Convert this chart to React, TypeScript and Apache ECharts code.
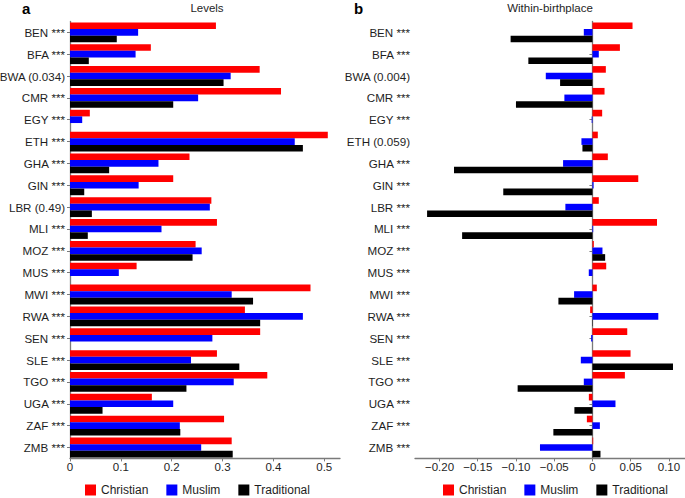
import React, { useEffect, useRef } from "react";
import * as echarts from "echarts";

const levelsLabels = [
  "BEN ***", "BFA ***", "BWA (0.034)", "CMR ***", "EGY ***", "ETH ***", "GHA ***", "GIN ***", "LBR (0.49)", "MLI ***",
  "MOZ ***", "MUS ***", "MWI ***", "RWA ***", "SEN ***", "SLE ***", "TGO ***", "UGA ***", "ZAF ***", "ZMB ***",
];
const withinLabels = [
  "BEN ***", "BFA ***", "BWA (0.004)", "CMR ***", "EGY ***", "ETH (0.059)", "GHA ***", "GIN ***", "LBR ***", "MLI ***",
  "MOZ ***", "MUS ***", "MWI ***", "RWA ***", "SEN ***", "SLE ***", "TGO ***", "UGA ***", "ZAF ***", "ZMB ***",
];

const levelsChristian = [0.287, 0.159, 0.373, 0.415, 0.039, 0.507, 0.235, 0.203, 0.278, 0.289, 0.247, 0.131, 0.473, 0.344, 0.374, 0.289, 0.388, 0.161, 0.303, 0.318];
const levelsMuslim = [0.134, 0.129, 0.316, 0.252, 0.024, 0.442, 0.174, 0.135, 0.275, 0.180, 0.259, 0.096, 0.318, 0.458, 0.280, 0.238, 0.322, 0.203, 0.216, 0.258];
const levelsTraditional = [0.092, 0.037, 0.302, 0.203, null, 0.458, 0.077, 0.028, 0.043, 0.035, 0.241, null, 0.360, 0.374, null, 0.333, 0.229, 0.064, 0.217, 0.320];

const withinChristian = [0.0524, 0.0359, 0.0175, 0.0158, 0.0127, 0.007, 0.0201, 0.0599, 0.0083, 0.0844, 0.0018, 0.018, 0.0057, -0.003, 0.0455, 0.0498, 0.0424, -0.0047, -0.0073, 0.001];
const withinMuslim = [-0.0113, 0.0083, -0.061, -0.0367, -0.001, -0.0144, -0.0384, 0.0015, -0.0354, 0.001, 0.0131, -0.0048, -0.024, 0.0861, -0.0017, -0.0152, -0.0113, 0.0301, 0.0097, -0.0686];
const withinTraditional = [-0.107, -0.0838, -0.0423, -0.1, null, -0.0131, -0.181, -0.1166, -0.2162, -0.1704, 0.0166, null, -0.0445, 0.0005, null, 0.1053, -0.0978, -0.0236, -0.0511, 0.0105];

const levelsTicks = [0, 0.1, 0.2, 0.3, 0.4, 0.5];
const withinTicks = [-0.2, -0.15, -0.1, -0.05, 0, 0.05, 0.1];

const seriesNames = ["Christian", "Muslim", "Traditional"];
const colors = ["#ff0000", "#0000ff", "#000000"];

const FONT = "'Liberation Sans', Arial, Helvetica, sans-serif";
const AXIS_COLOR = "#7a7a7a";
const TEXT_COLOR = "#1e1e1e";

export default function App() {
  const ref = useRef<HTMLDivElement>(null);
  useEffect(() => {
    if (!ref.current) return;
    const chart = echarts.init(ref.current, undefined, { renderer: "svg" });

    const catAxis = (labels: string[], gridIndex: number) => ({
      type: "category",
      gridIndex,
      data: labels,
      inverse: true,
      axisLine: { show: true, lineStyle: { color: AXIS_COLOR, width: 1.3 } },
      axisTick: { show: true, alignWithLabel: true, length: 3, lineStyle: { color: AXIS_COLOR } },
      axisLabel: { color: TEXT_COLOR, fontSize: 11.6, fontFamily: FONT, margin: 5 },
      splitLine: { show: false },
    });

    const valAxis = (gridIndex: number, min: number, max: number, ticks: number[], fmt: (v: number) => string) => ({
      type: "value",
      gridIndex,
      min,
      max,
      axisLine: { show: true, lineStyle: { color: AXIS_COLOR, width: 1.3 } },
      axisTick: { show: true, length: 3, lineStyle: { color: AXIS_COLOR }, customValues: ticks },
      axisLabel: { color: TEXT_COLOR, fontSize: 11.5, fontFamily: FONT, margin: 3, customValues: ticks, formatter: fmt },
      splitLine: { show: false },
    });

    const levelFmt = (v: number) => (Math.abs(v) < 1e-9 ? "0" : v.toFixed(1));
    const withinFmt = (v: number) => (Math.abs(v) < 1e-9 ? "0" : v.toFixed(2).replace("-", "\u2212"));

    const levelsData = [levelsChristian, levelsMuslim, levelsTraditional];
    const withinData = [withinChristian, withinMuslim, withinTraditional];

    const series: any[] = [];
    levelsData.forEach((d, i) => {
      series.push({
        type: "bar",
        name: seriesNames[i],
        xAxisIndex: 0,
        yAxisIndex: 0,
        data: d,
        itemStyle: { color: colors[i] },
        barGap: "0%",
        barCategoryGap: "9%",
      });
    });
    withinData.forEach((d, i) => {
      series.push({
        type: "bar",
        name: seriesNames[i],
        xAxisIndex: 1,
        yAxisIndex: 1,
        data: d,
        itemStyle: { color: colors[i] },
        barGap: "0%",
        barCategoryGap: "9%",
      });
    });

    const legend = (left: number) => ({
      left,
      top: 484,
      orient: "horizontal",
      padding: 0,
      itemWidth: 11,
      itemHeight: 11,
      itemGap: 18,
      icon: "rect",
      data: seriesNames,
      textStyle: { color: TEXT_COLOR, fontSize: 12, fontFamily: FONT },
      selectedMode: false,
    });

    chart.setOption({
      animation: false,
      backgroundColor: "#ffffff",
      textStyle: { fontFamily: FONT },
      grid: [
        { left: 70, top: 21.4, width: 270, height: 437, containLabel: false, outerBoundsMode: "none" },
        { left: 415, top: 21.4, width: 270, height: 437, containLabel: false, outerBoundsMode: "none" },
      ],
      xAxis: [
        valAxis(0, 0, 0.531, levelsTicks, levelFmt),
        valAxis(1, -0.232, 0.121, withinTicks, withinFmt),
      ],
      yAxis: [catAxis(levelsLabels, 0), catAxis(withinLabels, 1)],
      legend: [legend(85), legend(443)],
      series,
      graphic: [
        { type: "text", left: 22, top: 1, style: { text: "a", font: `bold 15px ${FONT}`, fill: "#000" } },
        { type: "text", left: 354, top: 1, style: { text: "b", font: `bold 15px ${FONT}`, fill: "#000" } },
        { type: "text", x: 207, y: 7.5, style: { text: "Levels", font: `11.5px ${FONT}`, fill: TEXT_COLOR, textAlign: "center", textVerticalAlign: "middle" } },
        { type: "text", x: 550, y: 7.5, style: { text: "Within-birthplace", font: `11.5px ${FONT}`, fill: TEXT_COLOR, textAlign: "center", textVerticalAlign: "middle" } },
      ],
    });

    return () => chart.dispose();
  }, []);

  return (
    <div
      ref={ref}
      style={{ position: "fixed", left: 0, top: 0, width: 685, height: 498, background: "#fff" }}
    />
  );
}
